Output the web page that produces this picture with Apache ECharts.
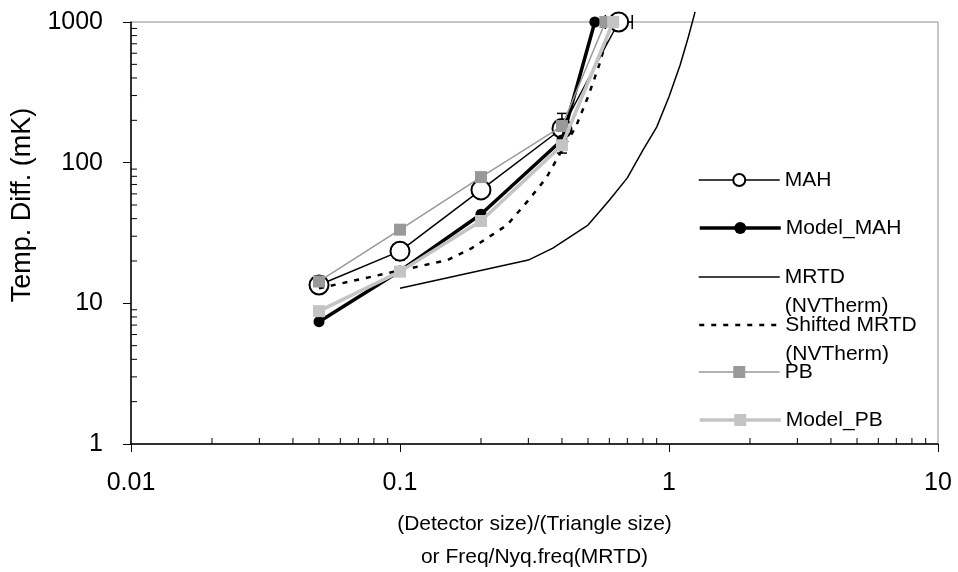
<!DOCTYPE html>
<html>
<head>
<meta charset="utf-8">
<script src="https://cdn.jsdelivr.net/npm/echarts@6/dist/echarts.min.js"></script>
<style>
  html, body { margin: 0; padding: 0; background: #fff; }
  #chart { width: 958px; height: 572px; }
</style>
</head>
<body>
<div id="chart"></div>
<script>
// measured points [x, y]
const mah = [[0.05, 13.5], [0.1, 23.5], [0.2, 64], [0.4, 175], [0.65, 1000]];
const modelMah = [[0.05, 7.4], [0.1, 17], [0.2, 43], [0.4, 145], [0.53, 1000]];
const mrtd = [[0.1, 12.8], [0.3, 20.3], [0.37, 24.7], [0.5, 36], [0.6, 54], [0.7, 78],
  [0.8, 123], [0.9, 179], [1.0, 294], [1.1, 494], [1.18, 782], [1.25, 1180]];
const shiftedMrtd = [[0.05, 12.8], [0.15, 20.3], [0.185, 24.7], [0.25, 36], [0.3, 54], [0.35, 78],
  [0.4, 123], [0.45, 179], [0.5, 294], [0.55, 494], [0.6, 870]];
const pb = [[0.05, 14.3], [0.1, 33.4], [0.2, 79], [0.4, 182], [0.58, 1000]];
const modelPb = [[0.05, 8.8], [0.1, 16.8], [0.2, 38.5], [0.4, 133], [0.62, 1000]];

// error bars on MAH: [x, low, high] and [y, left, right]
const mahErrY = [[0.1, 20.3, 27], [0.4, 117, 224]];
const mahErrX = [[1000, 0.58, 0.73]];

const xMinor = [0.02, 0.03, 0.04, 0.05, 0.06, 0.07, 0.08, 0.09,
  0.2, 0.3, 0.4, 0.5, 0.6, 0.7, 0.8, 0.9, 2, 3, 4, 5, 6, 7, 8, 9];
const yMinor = [2, 3, 4, 5, 6, 7, 8, 9, 20, 30, 40, 50, 60, 70, 80, 90,
  200, 300, 400, 500, 600, 700, 800, 900];

const FONT = "'Liberation Sans', Arial, sans-serif";

let chartDom = document.getElementById("chart");
let myChart = echarts.init(chartDom);

function fmt(v) {
  return String(parseFloat(Number(v).toPrecision(6)));
}

function legendItem(name, yc, lineW, label, noSymbol) {
  let lines = label ? 3 : 1;
  let item = { name: name };
  if (noSymbol) {
    item.itemStyle = { color: "rgba(0,0,0,0)", borderWidth: 0 };
  }
  return {
    data: [item],
    left: 698,
    top: yc - (lines * 29) / 2,
    padding: 0,
    orient: "vertical",
    itemWidth: 81,
    itemHeight: 15,
    selectedMode: false,
    lineStyle: { width: lineW },
    formatter: label ? function() { return label; } : null,
    textStyle: { fontFamily: FONT, fontSize: 21, lineHeight: 29, color: "#000" }
  };
}

let option = {
  animation: false,
  textStyle: { fontFamily: FONT },
  grid: {
    left: 131,
    right: 20,
    top: 22,
    bottom: 128,
    outerBoundsMode: "none",
    containLabel: false,
    show: true,
    borderColor: "#8c8c8c",
    borderWidth: 1
  },
  legend: [
    legendItem("MAH", 180, 1.5),
    legendItem("Model_MAH", 228, 3.5),
    legendItem("MRTD (NVTherm)", 277, 1.5, " \nMRTD\n(NVTherm)", true),
    legendItem("Shifted MRTD (NVTherm)", 325, 2.5, " \nShifted MRTD\n(NVTherm)", true),
    legendItem("PB", 372, 1.5),
    legendItem("Model_PB", 420, 3.5)
  ],
  xAxis: {
    type: "log",
    logBase: 10,
    min: 0.01,
    max: 10,
    name: "(Detector size)/(Triangle size)\nor Freq/Nyq.freq(MRTD)",
    nameLocation: "middle",
    nameGap: 64,
    nameTextStyle: { fontSize: 21, lineHeight: 33, color: "#000", fontFamily: FONT },
    axisLine: { lineStyle: { color: "#000", width: 1.5 } },
    axisTick: { length: 8, lineStyle: { color: "#000" } },
    axisLabel: { fontSize: 25, color: "#000", margin: 27, formatter: fmt },
    splitLine: { show: false }
  },
  yAxis: {
    type: "log",
    logBase: 10,
    min: 1,
    max: 1000,
    name: "Temp. Diff. (mK)",
    nameLocation: "middle",
    nameGap: 93,
    nameTextStyle: { fontSize: 27, color: "#000", fontFamily: FONT, padding: [0, 0, 0, 56] },
    axisLine: { lineStyle: { color: "#000", width: 1.5 } },
    axisTick: { length: 8, lineStyle: { color: "#000" } },
    axisLabel: { fontSize: 25, color: "#000", margin: 28, formatter: fmt },
    splitLine: { show: false }
  },
  series: [
    {
      name: "MAH",
      type: "line",
      data: mah,
      clip: false,
      symbol: "emptyCircle",
      symbolSize: 19,
      lineStyle: { color: "#000", width: 1.5 },
      itemStyle: { color: "#000", borderWidth: 2 },
      z: 3
    },
    {
      name: "Model_MAH",
      type: "line",
      data: modelMah,
      clip: false,
      symbol: "circle",
      symbolSize: 11,
      lineStyle: { color: "#000", width: 3.5 },
      itemStyle: { color: "#000" },
      z: 4
    },
    {
      name: "MRTD (NVTherm)",
      type: "line",
      data: mrtd,
      clip: false,
      symbol: "none",
      lineStyle: { color: "#000", width: 1.5 },
      itemStyle: { color: "#000" },
      z: 5
    },
    {
      name: "Shifted MRTD (NVTherm)",
      type: "line",
      data: shiftedMrtd,
      clip: false,
      symbol: "none",
      lineStyle: { color: "#000", width: 2.5, type: [5, 7] },
      itemStyle: { color: "#000" },
      z: 6
    },
    {
      name: "PB",
      type: "line",
      data: pb,
      clip: false,
      symbol: "rect",
      symbolSize: 12,
      lineStyle: { color: "#999999", width: 1.5 },
      itemStyle: { color: "#999999" },
      z: 7
    },
    {
      name: "Model_PB",
      type: "line",
      data: modelPb,
      clip: false,
      symbol: "rect",
      symbolSize: 12,
      lineStyle: { color: "#c4c4c4", width: 3.5 },
      itemStyle: { color: "#c4c4c4" },
      z: 8
    },
    {
      // vertical error bars
      type: "custom",
      data: mahErrY,
      clip: false,
      z: 2,
      renderItem: function(params, api) {
        let lo = api.coord([api.value(0), api.value(1)]);
        let hi = api.coord([api.value(0), api.value(2)]);
        let st = { stroke: "#000", lineWidth: 1.5 };
        return {
          type: "group",
          children: [
            { type: "line", shape: { x1: lo[0], y1: lo[1], x2: hi[0], y2: hi[1] }, style: st },
            { type: "line", shape: { x1: lo[0] - 5, y1: lo[1], x2: lo[0] + 5, y2: lo[1] }, style: st },
            { type: "line", shape: { x1: hi[0] - 5, y1: hi[1], x2: hi[0] + 5, y2: hi[1] }, style: st }
          ]
        };
      }
    },
    {
      // horizontal error bars
      type: "custom",
      data: mahErrX,
      clip: false,
      z: 2,
      renderItem: function(params, api) {
        let l = api.coord([api.value(1), api.value(0)]);
        let r = api.coord([api.value(2), api.value(0)]);
        let st = { stroke: "#000", lineWidth: 1.5 };
        return {
          type: "group",
          children: [
            { type: "line", shape: { x1: l[0], y1: l[1], x2: r[0], y2: r[1] }, style: st },
            { type: "line", shape: { x1: l[0], y1: l[1] - 7, x2: l[0], y2: l[1] + 7 }, style: st },
            { type: "line", shape: { x1: r[0], y1: r[1] - 7, x2: r[0], y2: r[1] + 7 }, style: st }
          ]
        };
      }
    },
    {
      // minor ticks on x axis, pointing inward
      type: "custom",
      data: xMinor.map(function(v) { return [v, 1]; }),
      clip: false,
      silent: true,
      renderItem: function(params, api) {
        let p = api.coord([api.value(0), api.value(1)]);
        return { type: "line", shape: { x1: p[0], y1: p[1], x2: p[0], y2: p[1] - 6 },
          style: { stroke: "#000", lineWidth: 1 } };
      }
    },
    {
      // minor ticks on y axis, pointing inward
      type: "custom",
      data: yMinor.map(function(v) { return [0.01, v]; }),
      clip: false,
      silent: true,
      renderItem: function(params, api) {
        let p = api.coord([api.value(0), api.value(1)]);
        return { type: "line", shape: { x1: p[0], y1: p[1], x2: p[0] + 6, y2: p[1] },
          style: { stroke: "#000", lineWidth: 1 } };
      }
    }
  ]
};

myChart.setOption(option);
</script>
</body>
</html>
